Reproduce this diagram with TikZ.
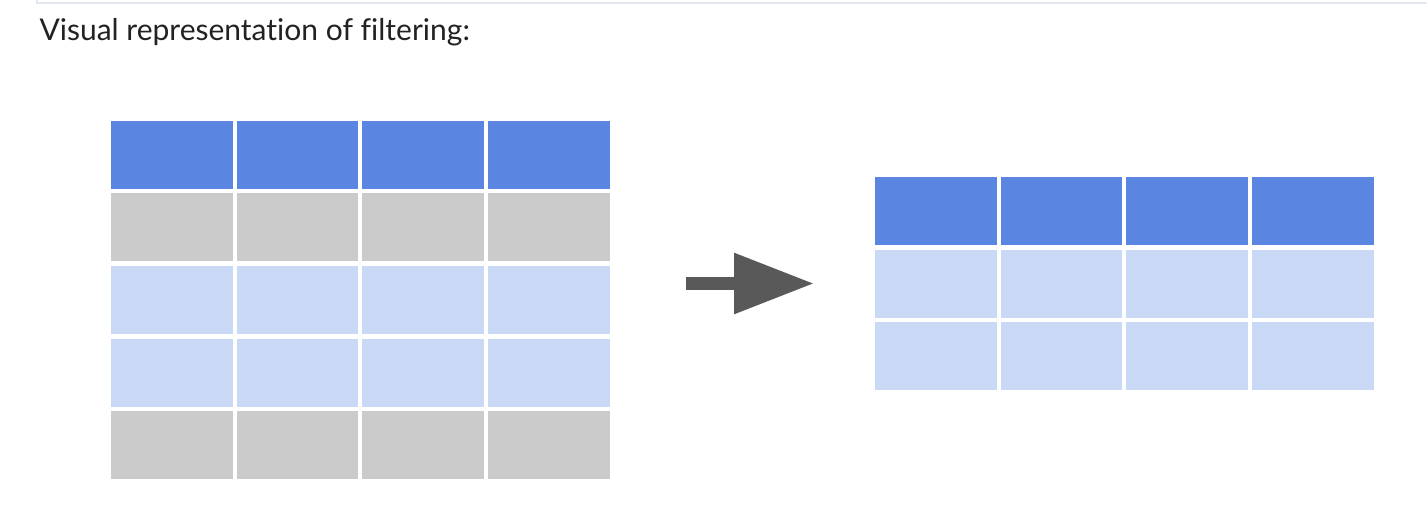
\documentclass[tikz,border=0pt]{standalone}
\usepackage{fontspec}
\setmainfont{Lato}[Ligatures={NoCommon}]
\usetikzlibrary{arrows.meta}

\definecolor{headblue}{HTML}{5A86E1}
\definecolor{rowblue}{HTML}{C9D8F5}
\definecolor{rowgray}{HTML}{CBCBCB}
\definecolor{arrowgray}{HTML}{595959}
\definecolor{framegray}{HTML}{E3E7F0}
\definecolor{textgray}{HTML}{222222}

\tikzset{
  cell/.style={shape=rectangle,minimum width=121.5pt,minimum height=68.1pt,inner sep=0pt},
  head/.style={cell,fill=headblue},
  keep/.style={cell,fill=rowblue},
  drop/.style={cell,fill=rowgray}
}

\begin{document}
\begin{tikzpicture}[x=1pt,y=-1pt]
\useasboundingbox (0,0) rectangle (1427,524);
\fill[white] (0,0) rectangle (1427,524);
\draw[framegray,line width=1.7pt] (37,-10) rectangle (1440,3.3);
\path (36,41) node (title) [anchor=base west,text=textgray,font=\fontsize{30}{35}\selectfont] {Visual representation of filtering:};

% table before filtering
\foreach \r/\kind in {1/head,2/drop,3/keep,4/keep,5/drop}
  \foreach \c in {1,...,4}
    \path ({111+60.75+(\c-1)*125.7},{120.7+34.05+(\r-1)*72.6}) node (a\r\c) [\kind] {};

% table after filtering
\foreach \r/\kind in {1/head,2/keep,3/keep}
  \foreach \c in {1,...,4}
    \path ({875+60.75+(\c-1)*125.7},{177+34.05+(\r-1)*72.6}) node (b\r\c) [\kind] {};

\coordinate (from) at (686,283.5);
\coordinate (to) at (814,283.5);
\draw [arrowgray,line width=12.4pt,-{Triangle[length=80pt,width=58pt]}] (from) -- (to);
\end{tikzpicture}
\end{document}
